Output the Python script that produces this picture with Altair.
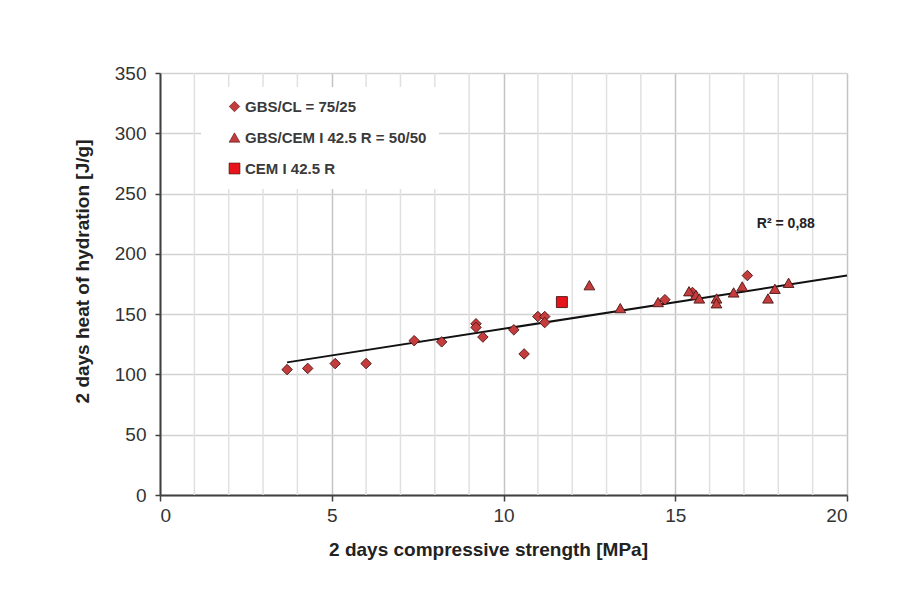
import altair as alt
import pandas as pd

# GBS/CL = 75/25 (diamonds)
cl_x = [3.7, 4.3, 5.1, 6.0, 7.4, 8.2, 9.2, 9.2, 9.4, 10.3, 10.6, 11.0, 11.2, 11.2, 14.7, 15.5, 17.1]
cl_y = [104, 105, 109, 109, 128, 127, 142, 139, 131, 137, 117, 148, 148, 143, 162, 168, 182]

# GBS/CEM I 42.5 R = 50/50 (triangles)
cem_x = [12.5, 13.4, 14.5, 15.4, 15.6, 15.7, 16.2, 16.2, 16.7, 16.95, 17.7, 17.9, 18.3]
cem_y = [174, 155, 160, 169, 166, 163, 163, 159, 168, 173, 163, 171, 176]

# CEM I 42.5 R (square)
ref_x = [11.7]
ref_y = [160]

# Linear trend line end points
trend_x = [3.7, 20.0]
trend_y = [110, 182]

# minor vertical gridlines
minor_x = [1, 2, 3, 4, 6, 7, 8, 9, 11, 12, 13, 14, 16, 17, 18, 19]

series = ["GBS/CL = 75/25", "GBS/CEM I 42.5 R = 50/50", "CEM I 42.5 R"]
shapes = ["diamond", "triangle-up", "square"]
fills = ["#c43c3c", "#c43c3c", "#e8141b"]

rows = []
for xs, ys, name in [(cl_x, cl_y, series[0]), (cem_x, cem_y, series[1]), (ref_x, ref_y, series[2])]:
    for a, b in zip(xs, ys):
        rows.append({"x": a, "y": b, "series": name})
df = pd.DataFrame(rows)
trend = pd.DataFrame({"x": trend_x, "y": trend_y})
minor = pd.DataFrame({"x": minor_x})
ann = pd.DataFrame({"x": [18.22], "y": [225], "t": ["R\u00b2 = 0,88"]})

FONT = "Liberation Sans"

xscale = alt.Scale(domain=[0, 20], nice=False, zero=True)
yscale = alt.Scale(domain=[0, 350], nice=False)

x_axis = alt.Axis(
    title="2 days compressive strength [MPa]",
    values=[0, 5, 10, 15, 20],
    labelOverlap=False,
    gridColor="#c4c4c4",
    gridWidth=1.5,
    tickSize=6,
    labelPadding=5,
    titleX=328,
    titleY=54,
    titleBaseline="middle",
    titleFontSize=19,
)
y_axis = alt.Axis(
    title="2 days heat of hydration [J/g]",
    values=list(range(0, 351, 50)),
    labelOverlap=False,
    gridColor="#d2d2d2",
    gridWidth=1.5,
    tickSize=5,
    labelPadding=9,
    titleX=-78,
    titleY=198,
    titleBaseline="middle",
    titleFontSize=19,
)

grid_minor = alt.Chart(minor).mark_rule(color="#e0e0e0", strokeWidth=1.5).encode(
    x=alt.X("x:Q", scale=xscale, axis=x_axis),
)

points = alt.Chart(df).mark_point(filled=True, opacity=1, stroke="#4a1414", strokeWidth=0.9).encode(
    x=alt.X("x:Q", scale=xscale),
    y=alt.Y("y:Q", scale=yscale, axis=y_axis),
    shape=alt.Shape("series:N", scale=alt.Scale(domain=series, range=shapes), legend=alt.Legend(title=None)),
    color=alt.Color("series:N", scale=alt.Scale(domain=series, range=fills), legend=alt.Legend(title=None)),
    size=alt.Size("series:N", scale=alt.Scale(domain=series, range=[110, 120, 150]), legend=None),
)

line = alt.Chart(trend).mark_line(color="#111111", strokeWidth=2).encode(
    x=alt.X("x:Q", scale=xscale),
    y=alt.Y("y:Q", scale=yscale),
)

text = alt.Chart(ann).mark_text(font=FONT, fontSize=14, fontWeight="bold", color="#222222", align="center").encode(
    x=alt.X("x:Q", scale=xscale),
    y=alt.Y("y:Q", scale=yscale),
    text="t:N",
)

chart = alt.layer(grid_minor, line, points, text).properties(
    width=687,
    height=422,
    autosize=alt.AutoSizeParams(type="none"),
    padding={"left": 152, "top": 65, "right": 50, "bottom": 80},
).configure_view(stroke=None).configure_axis(
    labelFont=FONT,
    titleFont=FONT,
    labelFontSize=19,
    titleFontWeight="bold",
    labelColor="#333333",
    titleColor="#222222",
    domainColor="#404040",
    domainWidth=2,
    tickColor="#404040",
    tickWidth=1.5,
).configure_legend(
    orient="none",
    legendX=41,
    legendY=14,
    fillColor="white",
    padding=12,
    rowPadding=15,
    labelFont=FONT,
    labelFontSize=15,
    labelFontWeight="bold",
    labelColor="#3a3a3a",
    labelLimit=400,
    symbolSize=55,
    symbolStrokeColor="#4a1414",
    symbolStrokeWidth=0.6,
    symbolOffset=14,
    labelOffset=3,
)

chart.save("out.html", embed_options={"renderer": "svg", "actions": False})
